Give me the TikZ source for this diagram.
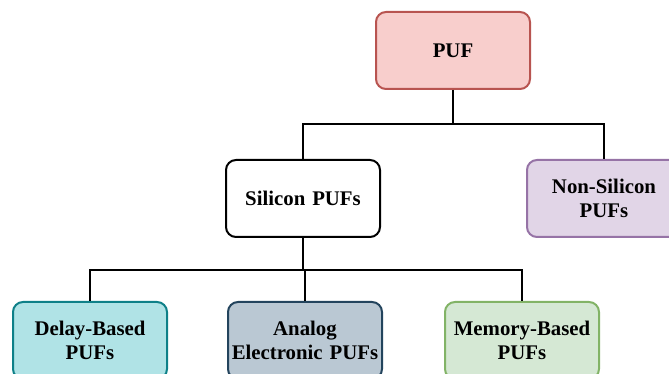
\documentclass[tikz,border=0pt]{standalone}
\usepackage{fontspec}
\setmainfont{Liberation Serif}
\begin{document}
\begin{tikzpicture}[x=0.75pt,y=-0.75pt,
  box/.style={draw, line width=1.5pt, rounded corners=7.5pt,
    minimum width=115.5pt, minimum height=57.75pt, inner xsep=0pt,
    text width=113pt, align=center,
    font=\fontsize{15.6}{18}\selectfont\bfseries},
  conn/.style={draw=black, line width=1.5pt, line join=miter}]
\useasboundingbox (0,0) rectangle (669,374);
\definecolor{pufF}{HTML}{F8CECC}\definecolor{pufD}{HTML}{B85450}
\definecolor{nonF}{HTML}{E1D5E7}\definecolor{nonD}{HTML}{9673A6}
\definecolor{delF}{HTML}{B0E3E6}\definecolor{delD}{HTML}{0E8088}
\definecolor{anaF}{HTML}{BAC8D3}\definecolor{anaD}{HTML}{23445D}
\definecolor{memF}{HTML}{D5E8D4}\definecolor{memD}{HTML}{82B366}

% top level
\node[box, fill=pufF, draw=pufD] (puf) at (453,50.5) {PUF};
% second level
\node[box, fill=white, draw=black] (sil) at (303,198.5) {Silicon PUFs};
\node[box, fill=nonF, draw=nonD] (nonsil) at (604,198.5) {Non-Silicon\\PUFs};
% third level
\node[box, fill=delF, draw=delD] (delay) at (90,340.5) {Delay-Based\\PUFs};
\node[box, fill=anaF, draw=anaD] (analog) at (305,340.5) {Analog\\Electronic PUFs};
\node[box, fill=memF, draw=memD] (memory) at (522,340.5) {Memory-Based\\PUFs};

% tree connectors
\coordinate (j1) at (453,124);
\coordinate (j2) at (303,270);
\draw[conn] (puf.south) -- (j1);
\draw[conn] (sil.north) |- (j1) -| (nonsil.north);
\draw[conn] (sil.south) -- (j2);
\draw[conn] (delay.north) |- (j2) -| (memory.north);
\draw[conn] (j2 -| analog.north) -- (analog.north);
\end{tikzpicture}
\end{document}
